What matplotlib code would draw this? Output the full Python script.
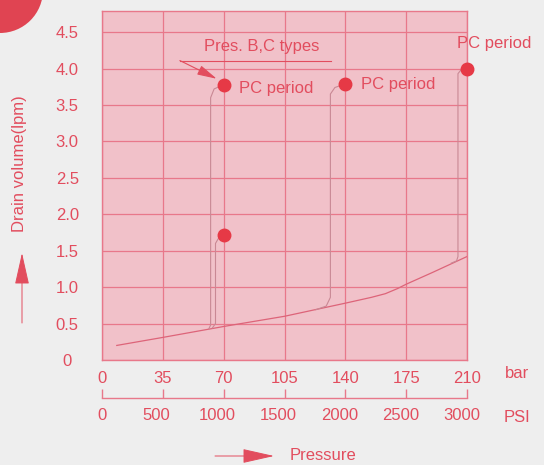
import matplotlib
matplotlib.use("Agg")
import matplotlib.pyplot as plt
from matplotlib.patches import Circle

plt.rcParams["font.family"] = ["Liberation Sans", "DejaVu Sans"]
plt.rcParams["font.size"] = 12

# ---------------- data ----------------
BAR_TICKS = [0, 35, 70, 105, 140, 175, 210]
PSI_LABELS = [0, 500, 1000, 1500, 2000, 2500, 3000]
LPM_TICKS = [0, 0.5, 1.0, 1.5, 2.0, 2.5, 3.0, 3.5, 4.0, 4.5]
LPM_LABELS = ["0", "0.5", "1.0", "1.5", "2.0", "2.5", "3.0", "3.5", "4.0", "4.5"]

# main drain curve (bar, lpm)
CURVE_BAR = [8.5, 35, 70, 105, 140, 155, 163, 170, 175, 190, 210]
CURVE_LPM = [0.20, 0.31, 0.46, 0.60, 0.78, 0.86, 0.91, 0.98, 1.04, 1.20, 1.42]

# pressure-compensator branches leaving the curve
BRANCH_A_BAR = [61.5, 62.5, 62.5, 64.5, 70]
BRANCH_A_LPM = [0.43, 0.48, 3.60, 3.72, 3.78]
BRANCH_B_BAR = [63.5, 65.3, 65.3, 67, 70]
BRANCH_B_LPM = [0.44, 0.50, 1.60, 1.67, 1.71]
BRANCH_C_BAR = [123, 129, 131.4, 131.4, 134, 140]
BRANCH_C_LPM = [0.69, 0.74, 0.86, 3.65, 3.74, 3.79]
BRANCH_D_BAR = [201, 204, 204.8, 204.8, 206.5, 210]
BRANCH_D_LPM = [1.33, 1.36, 1.42, 3.93, 3.98, 4.00]

DOT_BAR = [70, 70, 140, 210]
DOT_LPM = [3.78, 1.71, 3.79, 4.00]

PC_LABEL_BAR = [79, 149, 204]
PC_LABEL_LPM = [3.73, 3.78, 4.34]

# ---------------- colours ----------------
BG = "#eeeeee"
FACE = "#f1c1c9"
GRID = "#e8788a"
RED = "#e24d5e"
DOT = "#e63946"
CURVE = "#dd6479"
BRANCH = "#c98894"


def psi_to_pos(psi):
    # the printed PSI scale sits slightly left of a true bar conversion
    return max(0.0, psi / 14.2 - 4)


fig = plt.figure(figsize=(5.44, 4.65), dpi=100, facecolor=BG)
L, R, B, T = 102 / 544, 467 / 544, 1 - 360 / 465, 1 - 11 / 465
ax = fig.add_axes([L, B, R - L, T - B])
ax.set_facecolor(FACE)
ax.set_xlim(0, 210)
ax.set_ylim(0, 4.79)

ax.set_xticks(BAR_TICKS)
ax.set_xticklabels([str(v) for v in BAR_TICKS])
ax.set_yticks(LPM_TICKS)
ax.set_yticklabels(LPM_LABELS)
ax.tick_params(axis="x", length=0, pad=8, labelcolor=RED, labelsize=12)
ax.tick_params(axis="y", length=0, pad=25, labelcolor=RED, labelsize=12)
for lbl in ax.get_yticklabels():
    lbl.set_horizontalalignment("center")
ax.grid(True, color=GRID, lw=0.9)
ax.set_axisbelow(True)
for sp in ax.spines.values():
    sp.set_color(GRID)
    sp.set_linewidth(1.0)

ax.plot(CURVE_BAR, CURVE_LPM, color=CURVE, lw=0.9)
for xs, ys in [(BRANCH_A_BAR, BRANCH_A_LPM), (BRANCH_B_BAR, BRANCH_B_LPM),
               (BRANCH_C_BAR, BRANCH_C_LPM), (BRANCH_D_BAR, BRANCH_D_LPM)]:
    ax.plot(xs, ys, color=BRANCH, lw=0.8)
ax.plot(DOT_BAR, DOT_LPM, "o", color=DOT, ms=9, clip_on=False, zorder=5)

for x, y in zip(PC_LABEL_BAR, PC_LABEL_LPM):
    ax.text(x, y, "PC period", color=RED, ha="left", va="center",
            fontsize=12, clip_on=False)

ax.text(91.8, 4.30, "Pres. B,C types", color=RED, ha="center", va="center", fontsize=12)
ax.plot([44.8, 132], [4.11, 4.11], color=RED, lw=0.8)
ax.annotate("", xy=(66, 3.86), xytext=(44.8, 4.11),
            arrowprops=dict(arrowstyle="-|>,head_length=1.0,head_width=0.25",
                            color=RED, lw=0.8, shrinkA=0, shrinkB=0,
                            mutation_scale=12))

# PSI scale below the bar scale
ax_psi = fig.add_axes([L, 1 - 398 / 465, R - L, 0.02])
ax_psi.patch.set_visible(False)
ax_psi.set_xlim(0, 210)
ax_psi.set_yticks([])
for side in ["top", "left", "right"]:
    ax_psi.spines[side].set_visible(False)
ax_psi.spines["bottom"].set_color(GRID)
ax_psi.spines["bottom"].set_linewidth(1.0)
ax_psi.xaxis.remove_overlapping_locs = False
ax_psi.set_xticks(BAR_TICKS)
ax_psi.set_xticklabels([])
ax_psi.tick_params(axis="x", which="major", direction="in", length=6.5,
                   color=GRID, width=1.0)
ax_psi.set_xticks([psi_to_pos(p) for p in PSI_LABELS], minor=True)
ax_psi.set_xticklabels([str(p) for p in PSI_LABELS], minor=True)
ax_psi.tick_params(axis="x", which="minor", length=0, pad=7,
                   labelcolor=RED, labelsize=12)

# unit labels and axis titles
fig.text(517 / 544, 1 - 373 / 465, "bar", color=RED, ha="center", va="center", fontsize=12)
fig.text(517 / 544, 1 - 417 / 465, "PSI", color=RED, ha="center", va="center", fontsize=12)
fig.text(20 / 544, 1 - 164 / 465, "Drain volume(lpm)", color=RED, rotation=90,
         ha="center", va="center", fontsize=12)
fig.text(290 / 544, 1 - 455 / 465, "Pressure", color=RED, ha="left", va="center", fontsize=12)

arrow = dict(arrowstyle="-|>,head_length=2.0,head_width=0.45", color=RED,
             lw=0.7, shrinkA=0, shrinkB=0, mutation_scale=10)
fig.add_artist(plt.Annotation("", xy=(22 / 544, 1 - 253 / 465),
                              xytext=(22 / 544, 1 - 323 / 465),
                              xycoords="figure fraction", arrowprops=arrow))
fig.add_artist(plt.Annotation("", xy=(274 / 544, 1 - 456 / 465),
                              xytext=(215 / 544, 1 - 456 / 465),
                              xycoords="figure fraction", arrowprops=arrow))

# red ink blob in the top-left corner of the scan
fig.add_artist(Circle((0, 4.65 + 0.10), 0.43, transform=fig.dpi_scale_trans,
                      color="#e04452", lw=0))

fig.savefig("out.png", dpi=100, facecolor=BG)
